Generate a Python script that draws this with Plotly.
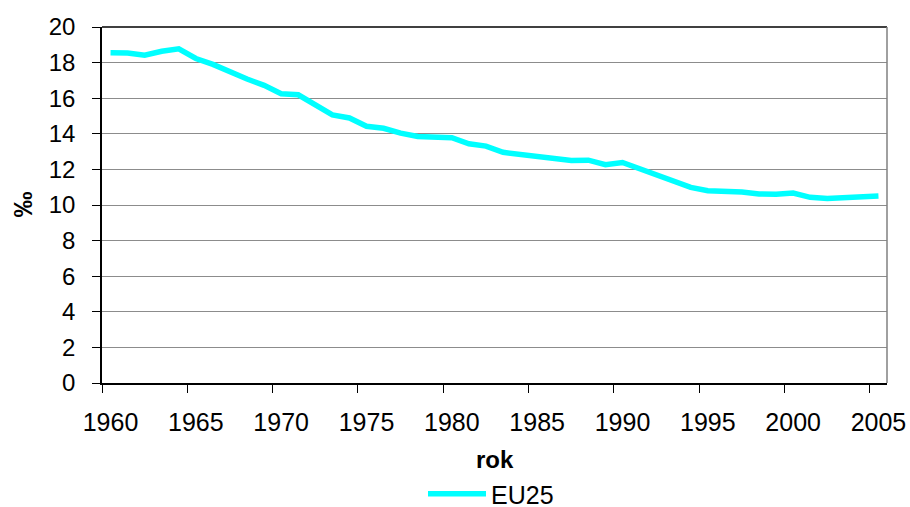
import plotly.graph_objects as go

years = list(range(1960, 2006))
eu25 = [18.55, 18.54, 18.42, 18.64, 18.77, 18.23, 17.90, 17.47, 17.08, 16.72,
        16.25, 16.19, 15.58, 15.06, 14.89, 14.42, 14.31, 14.04, 13.85, 13.81,
        13.78, 13.44, 13.31, 12.96, 12.83, 12.74, 12.63, 12.50, 12.52, 12.26,
        12.39, 12.04, 11.68, 11.31, 10.99, 10.80, 10.80, 10.73, 10.62, 10.60,
        10.67, 10.43, 10.36, 10.43, 10.50, 10.50]
x_ticks = list(range(1960, 2006, 5))
y_ticks = list(range(0, 21, 2))
series_name = "EU25"

FONT = "Liberation Sans, Arial, sans-serif"

fig = go.Figure()
fig.add_trace(go.Scatter(x=years, y=eu25, mode="lines", name=series_name,
                         line=dict(color="#00FFFF", width=5.5)))

fig.update_layout(
    width=910, height=507,
    margin=dict(l=102, r=23, t=27, b=124, autoexpand=False),
    paper_bgcolor="white", plot_bgcolor="white",
    font=dict(family=FONT, color="black", size=24),
    showlegend=True,
    legend=dict(orientation="h", x=491 / 910, xanchor="center", xref="container",
                yref="container", y=1 - 494 / 507, yanchor="middle",
                font=dict(size=25), itemwidth=58, bgcolor="rgba(0,0,0,0)"),
    xaxis=dict(range=[1959.5, 2005.5], tickmode="array", tickvals=x_ticks,
               ticktext=[str(v) for v in x_ticks], ticks="", showgrid=False,
               zeroline=False, showline=True, linecolor="black", linewidth=1.5,
               tickfont=dict(size=25), ticklabelstandoff=16, automargin=False,
               minor=dict(tickmode="array", tickvals=[v - 0.5 for v in x_ticks],
                          ticks="outside", ticklen=8, tickcolor="black", tickwidth=1,
                          showgrid=False)),
    yaxis=dict(range=[0, 20], tickmode="array", tickvals=y_ticks, ticks="outside",
               ticklen=8, tickcolor="black", tickwidth=1, showgrid=True,
               gridcolor="#8c8c8c", gridwidth=1, zeroline=False, showline=True,
               linecolor="black", linewidth=1.5, tickfont=dict(size=24),
               ticklabelstandoff=12, automargin=False),
    annotations=[
        dict(text="<b>rok</b>", xref="paper", yref="paper", x=0.5, y=(383 - 460) / 356,
             xanchor="center", yanchor="middle", showarrow=False, font=dict(size=24)),
        dict(text="<b>‰</b>", xref="paper", yref="paper", x=(22.5 - 102) / 785,
             y=0.5, xanchor="center", yanchor="middle", showarrow=False,
             textangle=-90, font=dict(size=26)),
    ],
    shapes=[
        dict(type="line", xref="paper", yref="paper", x0=0, x1=1, y0=1, y1=1,
             line=dict(color="black", width=1.5)),
        dict(type="line", xref="paper", yref="paper", x0=1, x1=1, y0=0, y1=1,
             line=dict(color="#808080", width=1.5)),
    ],
)

fig.write_html("out.html", config={"displayModeBar": False},
               post_script="document.body.style.margin='0';document.body.style.overflow='hidden';")
